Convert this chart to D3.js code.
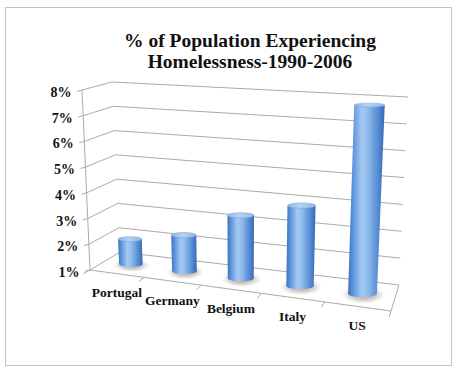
<!DOCTYPE html>
<html>
<head>
<meta charset="utf-8">
<script src="https://cdn.jsdelivr.net/npm/d3@7"></script>
<style>
  html, body { margin: 0; padding: 0; background: #fff; }
  text { font-family: "Liberation Serif", "Times New Roman", serif; font-weight: bold; fill: #111; }
</style>
</head>
<body>
<div id="chart"></div>
<script>
const width = 458;
const height = 374;

// data
const categories = ["Portugal", "Germany", "Belgium", "Italy", "US"];
const values = [2.0, 2.4, 3.4, 4.0, 7.9];
const yTicks = [1, 2, 3, 4, 5, 6, 7, 8];
const yTickLabels = ["1%", "2%", "3%", "4%", "5%", "6%", "7%", "8%"];
const titleLines = ["% of Population Experiencing", "Homelessness-1990-2006"];

const svg = d3.select("#chart")
  .append("svg")
  .attr("width", width)
  .attr("height", height);

// frame
svg.append("rect")
  .attr("x", 5.5).attr("y", 7.5)
  .attr("width", 446).attr("height", 358)
  .attr("fill", "#fff")
  .attr("stroke", "#c4c4c4");

// 3d box corners on screen (front/back, bottom/top, left/right)
const box = {
  FBL: [90, 270], FBR: [391, 311], BBL: [120, 252], BBR: [399, 285],
  FTL: [82, 90], FTR: [400, 112], BTL: [112, 82], BTR: [408, 97]
};

const x = d3.scaleBand().domain(categories).range([0, 1]);
const y = d3.scaleLinear().domain([1, 8]).range([0, 1]);

// slight perspective along the category axis
const persp = 0.88;
const warp = u => u * persp / (1 + (persp - 1) * u);

const lerp = (a, b, t) => [a[0] + (b[0] - a[0]) * t, a[1] + (b[1] - a[1]) * t];

function proj(u, v, w) {
  const uu = warp(u);
  const front = lerp(lerp(box.FBL, box.FBR, uu), lerp(box.FTL, box.FTR, uu), v);
  const back = lerp(lerp(box.BBL, box.BBR, uu), lerp(box.BTL, box.BTR, uu), v);
  return lerp(front, back, w);
}

const line = d3.line();
const gridColor = "#ababab";

// gridlines: left wall + back wall
const grid = svg.append("g").attr("fill", "none").attr("stroke", gridColor).attr("stroke-width", 1);
grid.selectAll("path.g")
  .data(yTicks)
  .join("path")
  .attr("class", "g")
  .attr("d", d => line([proj(0, y(d), 0), proj(0, y(d), 1), proj(1, y(d), 1)]));

// floor front and right edge, y axis line
grid.append("path").attr("d", line([proj(0, 0, 0), proj(1, 0, 0), proj(1, 0, 1)]));
grid.append("path").attr("d", line([proj(0, 0, 0), proj(0, 1, 0)]));

// y ticks
grid.selectAll("path.yt")
  .data(yTicks)
  .join("path")
  .attr("class", "yt")
  .attr("d", d => {
    const p = proj(0, y(d), 0);
    return line([p, [p[0] - 5, p[1] + 1.3]]);
  });

// category ticks on the front edge
const bounds = d3.range(categories.length + 1).map(i => i / categories.length);
grid.selectAll("path.xt")
  .data(bounds)
  .join("path")
  .attr("class", "xt")
  .attr("d", d => line([proj(d, 0, 0), proj(d, 0, -0.22)]));

// y labels
svg.append("g").selectAll("text")
  .data(yTicks)
  .join("text")
  .attr("x", d => proj(0, y(d), 0)[0] - 10.5)
  .attr("y", d => proj(0, y(d), 0)[1] + 7)
  .attr("text-anchor", "end")
  .style("font-size", "14px")
  .text((d, i) => yTickLabels[i]);

// category labels
svg.append("g").selectAll("text")
  .data(categories)
  .join("text")
  .attr("x", d => proj(x(d) + x.bandwidth() / 2, 0, 0)[0])
  .attr("y", d => proj(x(d) + x.bandwidth() / 2, 0, 0)[1] + 23.5)
  .attr("text-anchor", "middle")
  .style("font-size", "13.5px")
  .text(d => d);

// gradients
const defs = svg.append("defs");
const bodyGrad = defs.append("linearGradient").attr("id", "cyl");
[[0, "#3f73bd"], [0.12, "#5a90d8"], [0.38, "#a5caf3"], [0.55, "#8dbaec"], [0.85, "#4f85d0"], [1, "#3767b0"]]
  .forEach(s => bodyGrad.append("stop").attr("offset", s[0]).attr("stop-color", s[1]));
const topGrad = defs.append("linearGradient").attr("id", "cyltop");
[[0, "#8fb6e6"], [0.45, "#b6d3f5"], [1, "#92b8e6"]]
  .forEach(s => topGrad.append("stop").attr("offset", s[0]).attr("stop-color", s[1]));
const shadowGrad = defs.append("radialGradient").attr("id", "shadow");
[[0, "#9d958c", 0.9], [0.6, "#b9b2aa", 0.6], [1, "#d8d4cf", 0]]
  .forEach(s => shadowGrad.append("stop").attr("offset", s[0]).attr("stop-color", s[1]).attr("stop-opacity", s[2]));

// cylinders
const barHalf = x.bandwidth() * 0.225;
const depthHalf = 0.14;

const bars = svg.append("g").selectAll("g")
  .data(categories.map((c, i) => ({ c, v: values[i] })))
  .join("g");

bars.each(function (d) {
  const g = d3.select(this);
  const uc = x(d.c) + x.bandwidth() / 2;
  const b = proj(uc, 0, 0.5);
  const t = proj(uc, y(d.v), 0.5);
  const rxB = (proj(uc + barHalf, 0, 0.5)[0] - proj(uc - barHalf, 0, 0.5)[0]) / 2;
  const ryB = (proj(uc, 0, 0.5 - depthHalf)[1] - proj(uc, 0, 0.5 + depthHalf)[1]) / 2;
  const rxT = (proj(uc + barHalf, y(d.v), 0.5)[0] - proj(uc - barHalf, y(d.v), 0.5)[0]) / 2;
  const ryT = (proj(uc, y(d.v), 0.5 - depthHalf)[1] - proj(uc, y(d.v), 0.5 + depthHalf)[1]) / 2;

  g.append("ellipse")
    .attr("cx", b[0] + 1).attr("cy", b[1] + 1)
    .attr("rx", rxB * 1.55).attr("ry", ryB * 2.6)
    .attr("fill", "url(#shadow)");

  g.append("path")
    .attr("d", `M${t[0] - rxT},${t[1]} L${b[0] - rxB},${b[1]} A${rxB},${ryB} 0 0 0 ${b[0] + rxB},${b[1]} L${t[0] + rxT},${t[1]} Z`)
    .attr("fill", "url(#cyl)");

  g.append("ellipse")
    .attr("cx", t[0]).attr("cy", t[1])
    .attr("rx", rxT).attr("ry", ryT)
    .attr("fill", "url(#cyltop)")
    .attr("stroke", "#7ea5d6")
    .attr("stroke-width", 0.6);
});

// title
svg.append("g").selectAll("text")
  .data(titleLines)
  .join("text")
  .attr("x", 250)
  .attr("y", (d, i) => 47 + i * 21)
  .attr("text-anchor", "middle")
  .style("font-size", "19.5px")
  .text(d => d);
</script>
</body>
</html>
